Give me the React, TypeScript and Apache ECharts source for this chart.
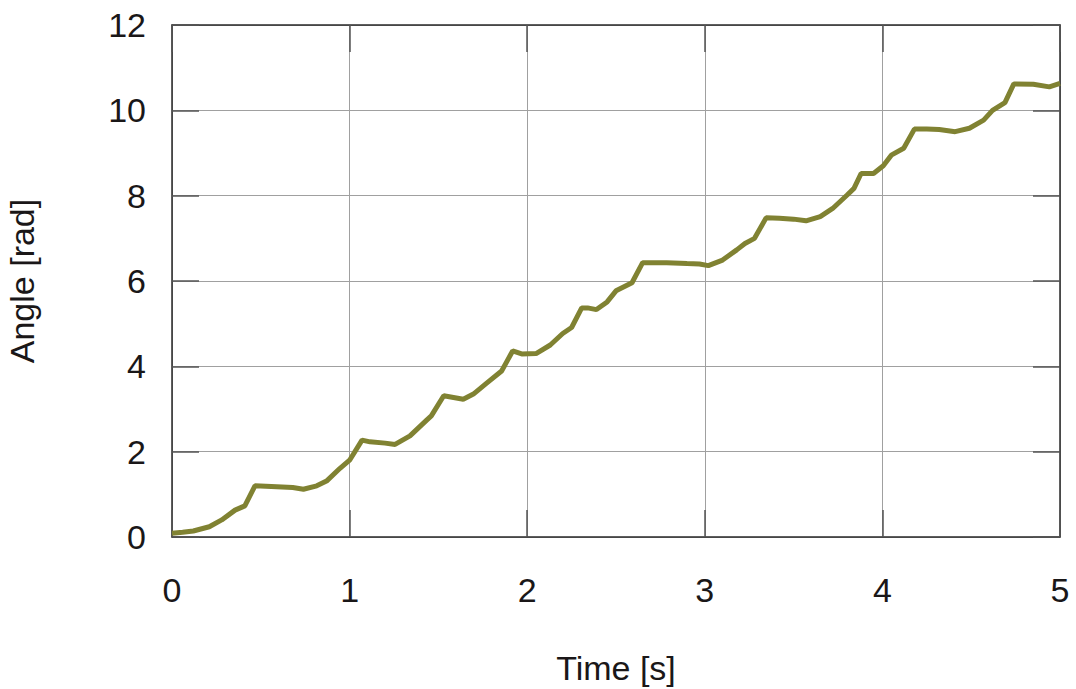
import React, { useEffect, useRef } from "react";
import * as echarts from "echarts";

// Measured rotation angle over time
const timeS = [
  0, 0.06, 0.12, 0.21, 0.28, 0.355, 0.41, 0.467, 0.59, 0.68, 0.74, 0.815, 0.87, 0.946, 1.0,
  1.07, 1.115, 1.2, 1.256, 1.34, 1.434, 1.46, 1.53, 1.585, 1.64, 1.697, 1.77, 1.856, 1.885,
  1.918, 1.969, 2.05, 2.13, 2.2, 2.25, 2.307, 2.34, 2.39, 2.45, 2.5, 2.59, 2.65, 2.785, 2.9,
  2.97, 3.02, 3.1, 3.18, 3.226, 3.28, 3.345, 3.42, 3.5, 3.57, 3.65, 3.72, 3.8, 3.84, 3.88,
  3.95, 4.005, 4.05, 4.12, 4.18, 4.25, 4.32, 4.41, 4.49, 4.57, 4.62, 4.69, 4.74, 4.85, 4.94, 5.0,
];
const angleRad = [
  0.09, 0.11, 0.14, 0.24, 0.4, 0.63, 0.73, 1.2, 1.18, 1.16, 1.12, 1.2, 1.31, 1.61, 1.8,
  2.27, 2.23, 2.2, 2.17, 2.37, 2.74, 2.84, 3.31, 3.27, 3.23, 3.35, 3.6, 3.89, 4.11,
  4.36, 4.29, 4.3, 4.5, 4.77, 4.91, 5.37, 5.37, 5.33, 5.51, 5.77, 5.96, 6.43, 6.43, 6.41,
  6.4, 6.36, 6.49, 6.73, 6.88, 7.0, 7.48, 7.47, 7.45, 7.41, 7.51, 7.7, 8.01, 8.17, 8.52,
  8.52, 8.7, 8.95, 9.11, 9.56, 9.56, 9.55, 9.5, 9.58, 9.77, 10.0, 10.18, 10.62, 10.61, 10.55, 10.63,
];

const FONT = "Liberation Sans, Arial, sans-serif";
const TEXT = "#1a1718";

export default function App() {
  const ref = useRef<HTMLDivElement>(null);

  useEffect(() => {
    if (!ref.current) return;
    const chart = echarts.init(ref.current, undefined, { renderer: "svg" });
    const frameLine = { show: true, onZero: false, lineStyle: { color: "#2a2a2a", width: 1.5 } };
    const innerTick = { show: true, inside: true, length: 27, lineStyle: { color: "#555555", width: 1.5 } };
    const grid = { show: true, lineStyle: { color: "#a0a0a0", width: 1 } };

    chart.setOption({
      animation: false,
      backgroundColor: "#ffffff",
      grid: {
        left: 172,
        right: 16,
        top: 25,
        bottom: 152,
        containLabel: false,
        outerBoundsMode: "none",
      },
      xAxis: [
        {
          type: "value",
          min: 0,
          max: 5,
          interval: 1,
          name: "Time [s]",
          nameLocation: "middle",
          nameGap: 114,
          nameTextStyle: { fontFamily: FONT, fontSize: 34, color: TEXT },
          axisLine: frameLine,
          axisTick: innerTick,
          splitLine: grid,
          axisLabel: { fontFamily: FONT, fontSize: 34, color: TEXT, margin: 36 },
        },
        {
          type: "value",
          position: "top",
          min: 0,
          max: 5,
          interval: 1,
          axisLine: frameLine,
          axisTick: innerTick,
          splitLine: { show: false },
          axisLabel: { show: false },
        },
      ],
      yAxis: [
        {
          type: "value",
          min: 0,
          max: 12,
          interval: 2,
          name: "Angle [rad]",
          nameLocation: "middle",
          nameGap: 133,
          nameTextStyle: { fontFamily: FONT, fontSize: 34, color: TEXT },
          axisLine: frameLine,
          axisTick: innerTick,
          splitLine: grid,
          axisLabel: { fontFamily: FONT, fontSize: 34, color: TEXT, margin: 26 },
        },
        {
          type: "value",
          position: "right",
          min: 0,
          max: 12,
          interval: 2,
          axisLine: frameLine,
          axisTick: innerTick,
          splitLine: { show: false },
          axisLabel: { show: false },
        },
      ],
      series: [
        {
          type: "line",
          xAxisIndex: 0,
          yAxisIndex: 0,
          data: timeS.map((t, i) => [t, angleRad[i]]),
          showSymbol: false,
          smooth: false,
          lineStyle: { color: "#808232", width: 5 },
          itemStyle: { color: "#808232" },
        },
      ],
    });
    return () => chart.dispose();
  }, []);

  return (
    <div
      ref={ref}
      style={{ position: "fixed", left: 0, top: 0, width: 1076, height: 689 }}
    />
  );
}
